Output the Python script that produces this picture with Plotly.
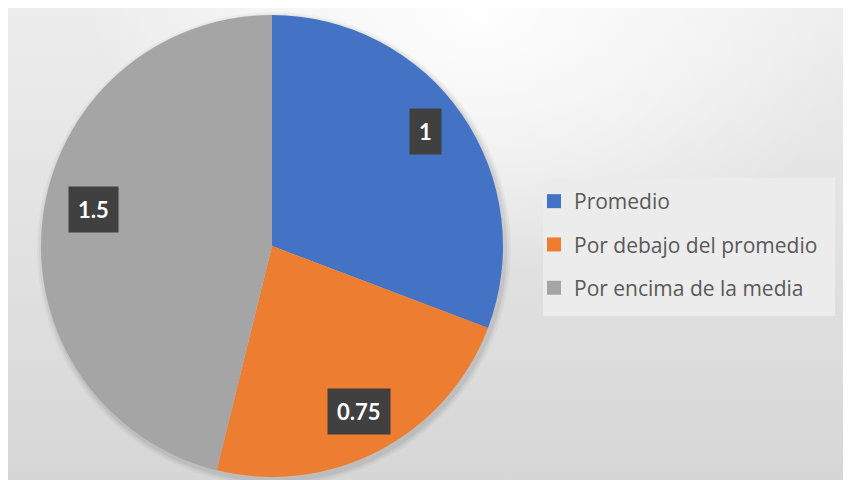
import base64
import math
import plotly.graph_objects as go

# ---- data ----
labels = ["Promedio", "Por debajo del promedio", "Por encima de la media"]
values = [1, 0.75, 1.5]
value_text = ["1", "0.75", "1.5"]
colors = ["#4472C4", "#ED7D31", "#A5A5A5"]

W, H = 851, 480
OX, OY = 8, 8  # page offset of the plot div
# pie geometry (page pixels)
CX, CY, R = 272, 246, 231

def px_x(x):
    return (x - OX) / W

def px_y(y):
    return 1 - (y - OY) / H

# background gradient as SVG
bw, bh = W, H
svg = f"""<svg xmlns='http://www.w3.org/2000/svg' width='{bw}' height='{bh}' viewBox='0 0 {bw} {bh}' preserveAspectRatio='none'>
<defs>
<linearGradient id='v' x1='0' y1='0' x2='0' y2='1'>
<stop offset='0' stop-color='#ededed'/>
<stop offset='1' stop-color='#d6d6d6'/>
</linearGradient>
<radialGradient id='h' gradientUnits='userSpaceOnUse' cx='470' cy='5' r='260' gradientTransform='translate(470,5) scale(1.5,1) translate(-470,-5)'>
<stop offset='0' stop-color='#ffffff' stop-opacity='0.95'/>
<stop offset='0.5' stop-color='#ffffff' stop-opacity='0.5'/>
<stop offset='1' stop-color='#ffffff' stop-opacity='0'/>
</radialGradient>
</defs>
<rect width='{bw}' height='{bh}' fill='url(#v)'/>
<rect width='{bw}' height='{bh}' fill='url(#h)'/>
</svg>"""
svg_uri = "data:image/svg+xml;base64," + base64.b64encode(svg.encode()).decode()

fig = go.Figure()

fig.add_trace(go.Pie(
    labels=labels,
    values=values,
    marker=dict(colors=colors, line=dict(width=0)),
    sort=False,
    direction="clockwise",
    rotation=0,
    textinfo="none",
    hoverinfo="label+value",
    showlegend=False,
    domain=dict(x=[px_x(CX - R), px_x(CX + R)], y=[px_y(CY + R), px_y(CY - R)]),
))

# legend entries via dummy scatter traces (for spacing control)
for lab, col in zip(labels, colors):
    fig.add_trace(go.Scatter(
        x=[None], y=[None], mode="markers", name=lab,
        marker=dict(symbol="square", size=14, color=col),
        legendgroup=lab, showlegend=True, hoverinfo="skip",
    ))

# data labels in dark boxes (placed along each slice's bisector)
total = sum(values)
annotations = []
cum = 0.0
label_r = [0.83, 0.81, 0.79]
label_turn = [-2.0, 0.0, 4.5]  # degrees, best-fit style nudge
for v, t, lr, turn in zip(values, value_text, label_r, label_turn):
    mid = (cum + v / 2) / total * 2 * math.pi + math.radians(turn)
    cum += v
    lx = CX + lr * R * math.sin(mid)
    ly = CY - lr * R * math.cos(mid)
    annotations.append(dict(
        x=px_x(lx), y=px_y(ly), xref="paper", yref="paper", text=f"<b>{t}</b>",
        xanchor="center", yanchor="middle",
        showarrow=False, font=dict(family="Lato, Calibri, sans-serif", size=22, color="#ffffff"),
        bgcolor="#404040", borderpad=9,
    ))

shapes = [
    # legend box
    dict(type="rect", xref="paper", yref="paper",
         x0=px_x(543), x1=px_x(835), y0=px_y(316), y1=px_y(178),
         fillcolor="#ececec", line=dict(width=0), layer="below"),
]
# soft pie shadow
for i, a in enumerate([0.05, 0.04, 0.03]):
    rr = R + 2 + 2 * i
    shapes.append(dict(type="circle", xref="paper", yref="paper",
                       x0=px_x(CX - rr + 2), x1=px_x(CX + rr + 2),
                       y0=px_y(CY + rr + 3), y1=px_y(CY - rr + 3),
                       fillcolor=f"rgba(0,0,0,{a})", line=dict(width=0), layer="below"))

fig.update_layout(
    width=W, height=H,
    margin=dict(l=0, r=0, t=0, b=0),
    paper_bgcolor="#ffffff",
    plot_bgcolor="rgba(0,0,0,0)",
    xaxis=dict(visible=False),
    yaxis=dict(visible=False),
    images=[dict(source=svg_uri, xref="paper", yref="paper",
                 x=0, y=1, sizex=1, sizey=1,
                 sizing="stretch", layer="below", xanchor="left", yanchor="top")],
    shapes=shapes,
    annotations=annotations,
    legend=dict(
        x=px_x(534), y=px_y(181), xanchor="left", yanchor="top",
        bgcolor="rgba(0,0,0,0)",
        font=dict(family="Open Sans, sans-serif", size=21, color="#595959"),
        tracegroupgap=13, itemwidth=30,
    ),
)

fig.write_html("out.html")
